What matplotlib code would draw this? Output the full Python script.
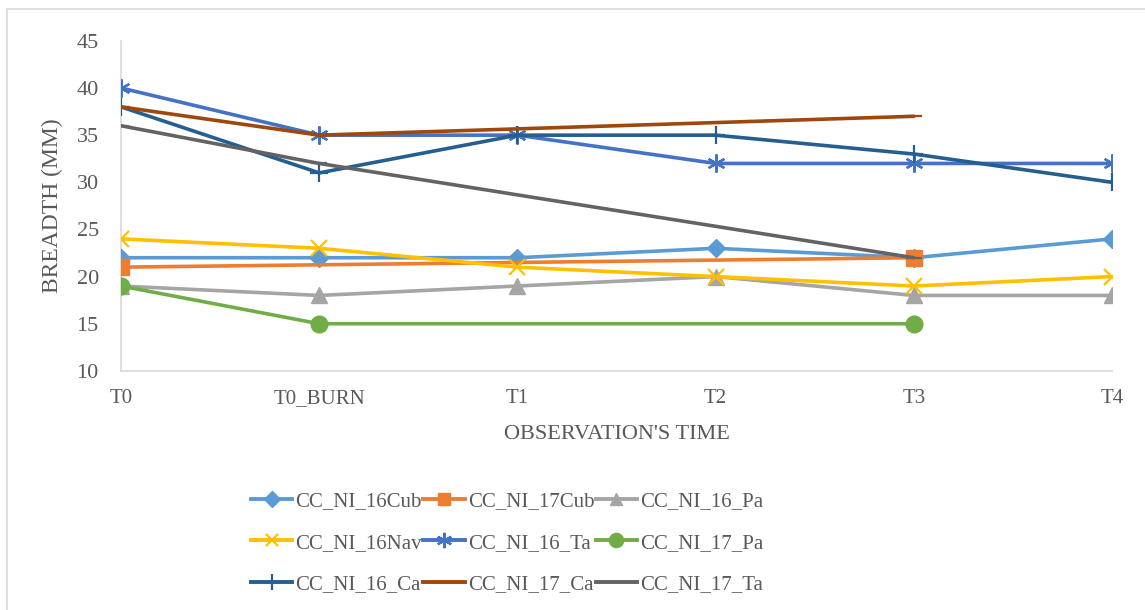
"""
Breadth measurements per sample across observation times.
"""
import numpy as np
import matplotlib.pyplot as plt
from matplotlib.lines import Line2D
from matplotlib.patches import Rectangle

plt.rcParams["font.family"] = ["Liberation Serif", "DejaVu Serif"]

times = ["T0", "T0_BURN", "T1", "T2", "T3", "T4"]
nan = np.nan

cc_ni_16cub = [22, 22, 22, 23, 22, 24]
cc_ni_17cub = [21, nan, nan, nan, 22, nan]
cc_ni_16_pa = [19, 18, 19, 20, 18, 18]
cc_ni_16nav = [24, 23, 21, 20, 19, 20]
cc_ni_16_ta = [40, 35, 35, 32, 32, 32]
cc_ni_17_pa = [19, 15, nan, nan, 15, nan]
cc_ni_16_ca = [38, 31, 35, 35, 33, 30]
cc_ni_17_ca = [38, 35, nan, nan, 37, nan]
cc_ni_17_ta = [36, 32, nan, nan, 22, nan]

series = [
    ("CC_NI_16Cub", cc_ni_16cub, "#5B9BD5", "D", 9),
    ("CC_NI_17Cub", cc_ni_17cub, "#ED7D31", "s", 11),
    ("CC_NI_16_Pa", cc_ni_16_pa, "#A5A5A5", "^", 11),
    ("CC_NI_16Nav", cc_ni_16nav, "#FFC000", "x", 11),
    ("CC_NI_16_Ta", cc_ni_16_ta, "#4472C4", (6, 2, 0), 13),
    ("CC_NI_17_Pa", cc_ni_17_pa, "#70AD47", "o", 12),
    ("CC_NI_16_Ca", cc_ni_16_ca, "#255E91", "+", 13),
    ("CC_NI_17_Ca", cc_ni_17_ca, "#9E480E", "_", 12),
    ("CC_NI_17_Ta", cc_ni_17_ta, "#636363", "_", 12),
]

fig = plt.figure(figsize=(11.45, 6.1), dpi=100)
fig.patches.append(Rectangle((0.006, -0.01), 1.0, 0.995, transform=fig.transFigure,
                             fill=False, edgecolor="#d9d9d9", linewidth=1.2))
ax = fig.add_axes([0.1057, 0.392, 0.8655, 0.541])

x = np.arange(len(times))
handles = []
for name, values, color, marker, msize in series:
    y = np.array(values, dtype=float)
    ok = ~np.isnan(y)
    mew = 1.6 if marker in ("x", "+", "_") or isinstance(marker, tuple) else 1.0
    ax.plot(x[ok], y[ok], color=color, linewidth=2.6, marker=marker, markersize=msize,
            markeredgewidth=mew, markeredgecolor=color, markerfacecolor=color,
            solid_capstyle="round", zorder=3)
    handles.append(Line2D([], [], color=color, linewidth=2.8, marker=marker,
                          markersize=msize * 0.85, markeredgewidth=mew,
                          markeredgecolor=color, markerfacecolor=color))

ax.set_xlim(0, len(times) - 1)
ax.set_ylim(10, 45)
ax.set_yticks(range(10, 46, 5))
ax.set_xticks(x)
ax.set_xticklabels(times)
ax.tick_params(axis="both", length=0, colors="#595959", labelsize=16)
ax.tick_params(axis="x", pad=13, labelsize=15)
ax.tick_params(axis="y", pad=16)

for side in ("top", "right"):
    ax.spines[side].set_visible(False)
for side in ("left", "bottom"):
    ax.spines[side].set_color("#d9d9d9")
    ax.spines[side].set_linewidth(1.2)

ax.set_xlabel("OBSERVATION'S TIME", fontsize=16, color="#595959", labelpad=12)
ax.set_ylabel("BREADTH (MM)", fontsize=17, color="#595959", labelpad=10)

# legend fills column by column, so reorder to read row by row in 3 columns
ncol = 3
order = [r * ncol + c for c in range(ncol) for r in range(len(series) // ncol)]
labels = [series[i][0] for i in order]
fig.legend([handles[i] for i in order], labels, loc="center",
           bbox_to_anchor=(0.443, 0.11), ncol=ncol, frameon=False, fontsize=15,
           labelcolor="#595959", handlelength=2.0, handletextpad=0.15,
           columnspacing=0.05, labelspacing=1.05)

fig.savefig("out.png", dpi=100)
